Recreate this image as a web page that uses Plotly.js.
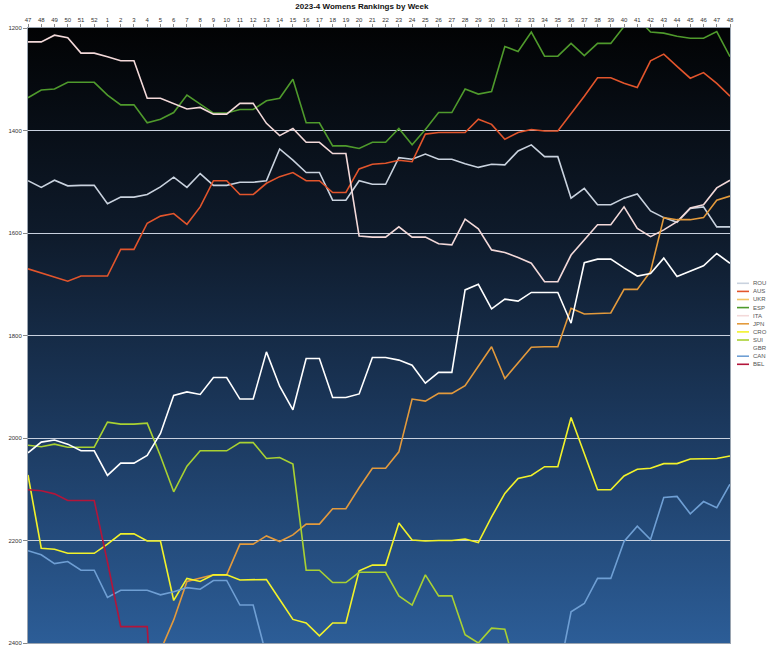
<!DOCTYPE html>
<html><head><meta charset="utf-8">
<script src="https://cdn.plot.ly/plotly-3.0.1.min.js"></script>
<style>html,body{margin:0;padding:0;background:#fff}#chart{width:770px;height:650px}</style>
</head><body><div id="chart"></div>
<script>
const weeks = [47,48,49,50,51,52,1,2,3,4,5,6,7,8,9,10,11,12,13,14,15,16,17,18,19,20,21,22,23,24,25,26,27,28,29,30,31,32,33,34,35,36,37,38,39,40,41,42,43,44,45,46,47,48];

const ROU = [1498,1511,1497,1508,1507,1507,1543,1530,1530,1525, 1510,1491,1511,1484,1507,1507,1501,1501,1498,1436, 1458,1482,1482,1536,1536,1498,1505,1505,1453,1456, 1446,1456,1456,1465,1472,1466,1467,1440,1428,1451, 1451,1532,1513,1545,1545,1532,1524,1557,1570,1579, 1552,1549,1588,1588];
const AUS = [1670,1678,1685,1694,1684,1684,1684,1632,1632,1581, 1567,1562,1583,1549,1498,1498,1525,1525,1503,1490, 1482,1498,1498,1521,1521,1475,1466,1464,1458,1461, 1407,1404,1404,1404,1378,1388,1417,1404,1398,1401, 1401,1368,1333,1297,1297,1308,1316,1264,1251,1275, 1298,1287,1308,1333];
const UKR = [];
const ESP = [1336,1321,1319,1306,1306,1306,1331,1350,1350,1385, 1378,1365,1331,1348,1366,1366,1359,1359,1342,1337, 1300,1385,1385,1430,1430,1435,1423,1423,1396,1428, 1398,1365,1365,1319,1329,1324,1236,1246,1208,1255, 1255,1230,1254,1230,1230,1197,1180,1208,1210,1216, 1220,1220,1207,1256];
const ITA = [1227,1227,1214,1219,1249,1249,1256,1264,1264,1337, 1337,1348,1358,1355,1368,1368,1347,1347,1386,1410, 1396,1423,1423,1445,1445,1606,1608,1608,1588,1608, 1608,1621,1623,1573,1592,1633,1638,1648,1659,1695, 1695,1643,1614,1584,1584,1549,1591,1607,1594,1578, 1551,1545,1512,1497];
const JPN = [null,null,null,null,null,null,null,null,null,null, 2415,2355,2280,2274,2267,2267,2207,2207,2191,2202, 2189,2168,2168,2138,2138,2097,2059,2059,2027,1924, 1928,1913,1913,1898,1859,1822,1884,1854,1823,1822, 1822,1747,1758,1757,1756,1710,1710,1675,1570,1574, 1574,1570,1536,1528];
const CRO = [2072,2215,2217,2225,2225,2225,2207,2187,2187,2201, 2201,2317,2274,2280,2267,2267,2277,2277,2276,2315, 2354,2361,2386,2361,2361,2259,2248,2248,2166,2199, 2201,2200,2200,2197,2204,2154,2108,2079,2073,2056, 2056,1960,2031,2101,2101,2074,2061,2059,2050,2050, 2041,2041,2040,2035];
const SUI = [2014,2017,2012,2018,2018,2018,1969,1973,1973,1971, 2035,2105,2055,2025,2025,2025,2009,2009,2040,2038, 2051,2258,2258,2282,2282,2262,2262,2262,2308,2326, 2267,2308,2308,2384,2400,2371,2373,2465];
const GBR = [2029,2008,2004,2012,2025,2025,2073,2049,2049,2034, 1991,1917,1910,1915,1882,1882,1924,1924,1832,1899, 1945,1845,1845,1921,1921,1914,1843,1843,1848,1858, 1893,1872,1872,1711,1700,1748,1729,1733,1716,1716, 1716,1776,1658,1651,1651,1668,1684,1679,1649,1685, 1675,1664,1640,1659];
const CAN = [2220,2228,2245,2241,2258,2258,2311,2297,2297,2297, 2306,2300,2292,2295,2278,2278,2326,2326,2425,null, null,null,null,null,null,null,null,null,null,null, null,null,null,null,null,null,null,null,null,null, 2470,2339,2323,2274,2274,2202,2172,2198,2116,2114, 2148,2124,2136,2090];
const BEL = [2101,2103,2109,2122,2122,2122,2242,2368,2368,2368, 2800];

const names = ['ROU','AUS','UKR','ESP','ITA','JPN','CRO','SUI','GBR','CAN','BEL'];
const seriesData = [ROU,AUS,UKR,ESP,ITA,JPN,CRO,SUI,GBR,CAN,BEL];
const colors = ['#c9d2de','#e2552c','#f2c462','#4f9a2c','#f3d9d9','#e39a3c','#f2f22a','#a9d132','#ffffff','#6f9fd4','#b3153a'];

const xIdx = weeks.map((w,i)=>i);
const traces = names.map((n,k)=>({
  type:'scatter', mode:'lines', name:n,
  x: xIdx.slice(0, seriesData[k].length), y: seriesData[k],
  line:{color:colors[k], width:1.6}, connectgaps:false, showlegend:false,
  hoverinfo:'x+y+name'
}));

const bgSvg = "<svg xmlns='http://www.w3.org/2000/svg' width='100' height='100' preserveAspectRatio='none'><defs><linearGradient id='g' x1='0' y1='0' x2='0' y2='1'><stop offset='0' stop-color='#020304'/><stop offset='0.33' stop-color='#0e1a2a'/><stop offset='0.66' stop-color='#1c3a60'/><stop offset='1' stop-color='#2c5d97'/></linearGradient></defs><rect width='100' height='100' fill='url(#g)'/></svg>";

const shapes = [], annotations = [];
const plotW = 702, plotH = 615;
names.forEach((n,k)=>{
  const py = 283.3 + k*8.1;
  const yp = (643 - py)/plotH;
  shapes.push({type:'line', xref:'paper', yref:'paper', x0:(737-28)/plotW, x1:(749-28)/plotW, y0:yp, y1:yp, line:{color:colors[k], width:1.6}});
  annotations.push({xref:'paper', yref:'paper', x:(751-28)/plotW, y:yp, xanchor:'left', yanchor:'middle', text:n, showarrow:false, font:{family:'Liberation Sans, Arial, sans-serif', size:6, color:'#555'}});
});

const layout = {
  width:770, height:650,
  margin:{l:28, r:40, t:28, b:7, pad:0},
  paper_bgcolor:'#ffffff', plot_bgcolor:'rgba(0,0,0,0)',
  title:{text:'2023-4 Womens Rankings by Week', font:{family:'Liberation Sans, Arial, sans-serif', size:8, color:'#111', weight:'bold'}, x:0.47, xref:'container', xanchor:'center', y:0.991, yref:'container', yanchor:'middle'},
  xaxis:{range:[0,53], side:'top', tickmode:'array', tickvals:xIdx, ticktext:weeks.map(String), ticks:'outside', ticklen:3, tickcolor:'#888', tickangle:0,
    showgrid:false, zeroline:false, showline:true, linecolor:'#9aa4b0', mirror:true, tickfont:{family:'Liberation Sans, Arial, sans-serif', size:6, color:'#333'}, fixedrange:true},
  yaxis:{range:[2400,1200], tickvals:[1200,1400,1600,1800,2000,2200,2400], ticks:'outside', ticklen:4, tickcolor:'#888',
    showgrid:true, gridcolor:'#c8d0de', gridwidth:1, zeroline:false, showline:true, linecolor:'#9aa4b0', mirror:true,
    tickfont:{family:'Liberation Sans, Arial, sans-serif', size:6, color:'#333'}, fixedrange:true},
  images:[{source:'data:image/svg+xml;charset=utf-8,'+encodeURIComponent(bgSvg), xref:'paper', yref:'paper', x:0, y:1, sizex:1, sizey:1, xanchor:'left', yanchor:'top', sizing:'stretch', layer:'below'}],
  shapes:shapes, annotations:annotations, showlegend:false
};
Plotly.newPlot('chart', traces, layout, {displayModeBar:false, staticPlot:true});
</script>
</body></html>
